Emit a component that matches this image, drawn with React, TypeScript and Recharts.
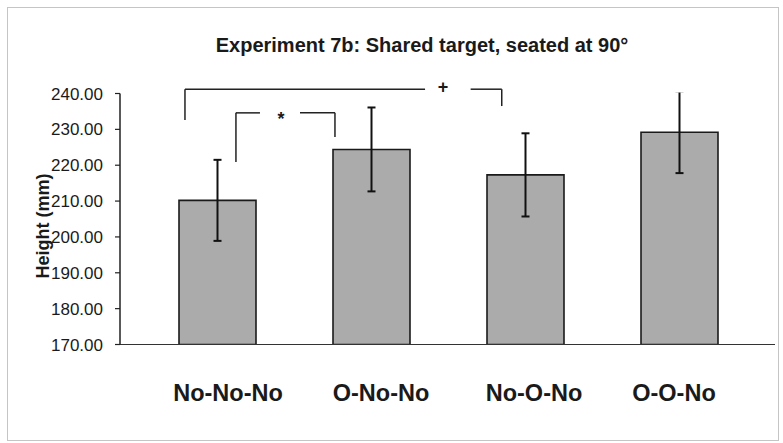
import React from "react";
import {
  ComposedChart,
  Bar,
  XAxis,
  YAxis,
  ErrorBar,
  ReferenceLine,
  ReferenceDot,
} from "recharts";

const categories = ["No-No-No", "O-No-No", "No-O-No", "O-O-No"];
const heights = [210.2, 224.4, 217.3, 229.2];
const errors = [11.3, 11.7, 11.6, 11.4];
const yTicks = [170, 180, 190, 200, 210, 220, 230, 240];

// significance brackets, x in category units (0..4), y in mm
const bracketSegments = [
  // "+" bracket
  [0.292, 232.6, 0.292, 241.2],
  [0.292, 241.2, 1.851, 241.2],
  [2.147, 241.2, 2.349, 241.2],
  [2.349, 241.2, 2.349, 236.5],
  // "*" bracket
  [0.623, 220.9, 0.623, 234.6],
  [0.623, 234.6, 0.779, 234.6],
  [1.039, 234.6, 1.266, 234.6],
  [1.266, 234.6, 1.266, 227.9],
];
const bracketMarks = [
  { x: 1.968, y: 242.0, text: "+" },
  { x: 0.916, y: 233.0, text: "*" },
];

// pos = centre of each category in the 0..4 units used by the brackets
const data = categories.map((c, i) => ({ name: c, pos: i + 0.5, height: heights[i], err: errors[i] }));

const FONT = "'Liberation Sans', Arial, sans-serif";
const LABEL_NUDGE = [11, 10, 9, -5];

const XTick = (props: any) => {
  const { x, y, payload, index } = props;
  return (
    <text
      x={x + (LABEL_NUDGE[index] || 0)}
      y={y + 56.5}
      textAnchor="middle"
      fontFamily={FONT}
      fontWeight="bold"
      fontSize={23.5}
      fill="#1a1a1a"
    >
      {payload.value}
    </text>
  );
};

export default function App() {
  return (
    <div style={{ position: "absolute", left: 0, top: 0, width: 783, height: 443, background: "#fff" }}>
      <svg width={783} height={443} style={{ position: "absolute", left: 0, top: 0 }}>
        <rect x={7.5} y={7.5} width={771} height={433} fill="none" stroke="#8a8a8a" strokeDasharray="1 1" />
        <text x={422} y={52} textAnchor="middle" fontFamily={FONT} fontWeight="bold" fontSize={20} fill="#1a1a1a">
          Experiment 7b: Shared target, seated at 90°
        </text>
        <text
          transform="translate(48.5,226) rotate(-90)"
          textAnchor="middle"
          fontFamily={FONT}
          fontWeight="bold"
          fontSize={18}
          fill="#1a1a1a"
        >
          Height (mm)
        </text>
      </svg>
      <div style={{ position: "absolute", left: 0, top: 0 }}>
        <ComposedChart
          width={783}
          height={443}
          data={data}
          margin={{ top: 93.5, right: 8, bottom: 38.5, left: 0 }}
        >
          <XAxis
            dataKey="name"
            height={60}
            padding={{ left: 20, right: 19 }}
            tickLine={false}
            tickSize={0}
            tickMargin={0}
            tick={<XTick />}
            axisLine={{ stroke: "#333", strokeWidth: 1.2 }}
            interval={0}
          />
          <XAxis
            xAxisId="ann"
            dataKey="pos"
            type="number"
            domain={[0, 4]}
            allowDataOverflow
            hide
            padding={{ left: 20, right: 19 }}
          />
          <YAxis
            width={120}
            domain={[170, 240]}
            ticks={yTicks}
            allowDataOverflow
            tickFormatter={(v: number) => v.toFixed(2)}
            tickSize={5}
            tickMargin={12}
            tick={{ fontFamily: FONT, fontSize: 17, fill: "#1a1a1a" }}
            tickLine={{ stroke: "#222", strokeWidth: 1.2 }}
            axisLine={{ stroke: "#222", strokeWidth: 1.5 }}
          />
          <Bar
            dataKey="height"
            barSize={77}
            fill="#ababab"
            stroke="#1a1a1a"
            strokeWidth={1.6}
            isAnimationActive={false}
          >
            <ErrorBar dataKey="err" width={4} stroke="#111" strokeWidth={2} direction="y" />
          </Bar>
          {bracketSegments.map((s, i) => (
            <ReferenceLine
              key={`seg-${i}`}
              xAxisId="ann"
              segment={[
                { x: s[0], y: s[1] },
                { x: s[2], y: s[3] },
              ]}
              stroke="#222"
              strokeWidth={1.5}
              ifOverflow="visible"
            />
          ))}
          {bracketMarks.map((m, i) => (
            <ReferenceDot
              key={`mark-${i}`}
              xAxisId="ann"
              x={m.x}
              y={m.y}
              r={0.1}
              fill="none"
              stroke="none"
              ifOverflow="visible"
              label={{
                value: m.text,
                position: "center",
                fontFamily: FONT,
                fontWeight: "bold",
                fontSize: 18,
                fill: "#1a1a1a",
              }}
            />
          ))}
        </ComposedChart>
      </div>
      {/* the plot area clips the last error bar at 240 */}
      <svg width={783} height={443} style={{ position: "absolute", left: 0, top: 0, pointerEvents: "none" }}>
        <rect x={600} y={80} width={170} height={12.5} fill="#fff" />
      </svg>
    </div>
  );
}
